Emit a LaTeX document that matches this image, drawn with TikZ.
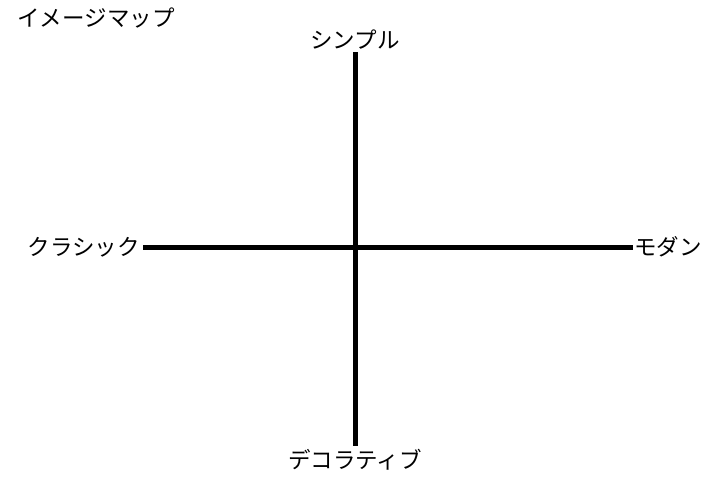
\documentclass[tikz,border=0pt]{standalone}
\usepackage{fontspec}
\newfontfamily\jpfont{Noto Sans CJK JP}
\usetikzlibrary{positioning}

\begin{document}
\begin{tikzpicture}
              [x=1pt,y=-1pt,
                every node/.style={rectangle,draw=none,font=\jpfont\fontsize{22.5}{27}\selectfont,fill=none,inner sep=1pt},
                axis/.style={draw=black,line width=5pt}]
              \useasboundingbox (0,0) rectangle (725,483);
              \coordinate (n0) at (355,247);
              \coordinate (top) at (355,52);
              \coordinate (bot) at (355,446);
              \coordinate (lft) at (143,247);
              \coordinate (rgt) at (633,247);
              \node (title) at (96,18) {イメージマップ};
              \node (n1) [above=2pt of top] {シンプル};
              \node (n2) [left=2pt of lft] {クラシック};
              \node (n3) [right=0pt of rgt] {モダン};
              \node (n4) [below=2pt of bot] {デコラティブ};
              \foreach \from/\to in {top/bot,lft/rgt}
              \draw[axis] (\from) -- (\to);
            \end{tikzpicture}
\end{document}
